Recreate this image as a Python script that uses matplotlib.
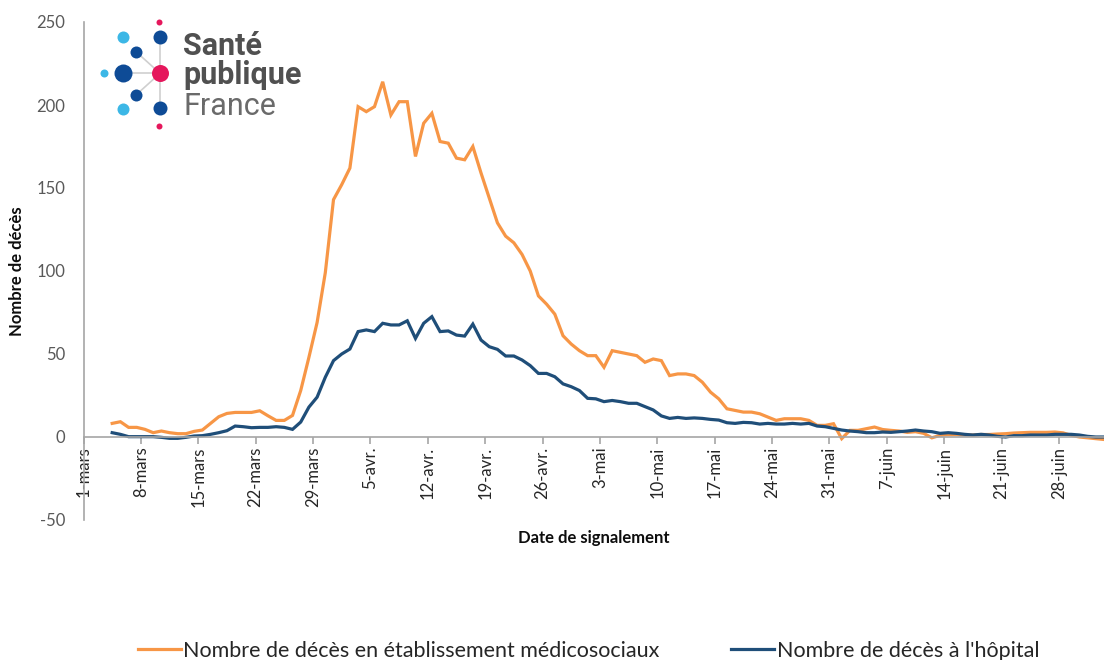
import numpy as np
import matplotlib
matplotlib.use('Agg')
import matplotlib.pyplot as plt
from matplotlib import font_manager

# ===========================
# DONNEES
# ===========================
PREMIER_JOUR = 3  # 4-mars (jour 0 = 1-mars)

deces_ems = [
    8.2, 9.2, 5.8, 5.8, 4.6, 2.6, 3.6, 2.6, 2.0, 2.0,
    3.4, 4.2, 8.2, 12.2, 14.2, 14.8, 14.8, 14.8, 15.8, 12.8,
    10, 10, 13, 28, 48, 69, 99, 143, 152, 162,
    199, 196, 199, 214, 194, 202, 202, 169, 189, 195,
    178, 177, 168, 167, 175, 159, 144, 129, 121, 117,
    110, 100, 85, 80, 74, 61, 56, 52, 49, 49,
    42, 52, 51, 50, 49, 45, 47, 46, 37, 38,
    38, 37, 33, 27, 23, 17, 16, 15, 15, 14,
    12, 10, 11, 11, 11, 10, 7, 7, 8, -1,
    4, 4, 5, 6, 4.5, 4, 3.6, 2.8, 3.2, 2.2,
    -0.5, 1, 1.5, 1.5, 1.2, 1.2, 1.5, 1.5, 1.8, 2,
    2.4, 2.6, 2.8, 2.8, 2.8, 3, 2.5, 1, 0, -0.5,
    -1, -1.5,
]

deces_hopital = [
    2.6, 1.6, 0.2, 0.2, 0.2, 0.2, -0.2, -0.8, -0.8, -0.2,
    0.6, 0.8, 1.6, 2.6, 3.8, 6.6, 6.2, 5.6, 5.8, 5.8,
    6.2, 5.8, 4.6, 9, 18, 24, 36, 46, 50, 53,
    63.5, 64.5, 63.5, 68.5, 67.5, 67.5, 70, 59.4, 68.5, 72.5,
    63.5, 63.9, 61.4, 60.8, 68, 58.4, 54.4, 52.8, 48.8, 48.8,
    46.4, 43, 38.3, 38.3, 36.3, 32, 30.3, 28, 23.3, 23,
    21.3, 22, 21.3, 20.3, 20.3, 18.3, 16.3, 12.7, 11.2, 11.8,
    11.2, 11.5, 11.2, 10.6, 10.2, 8.6, 8.2, 8.8, 8.6, 7.8,
    8.2, 7.8, 7.8, 8.2, 7.8, 8.2, 6.6, 6.2, 5.2, 4.2,
    3.6, 3.2, 2.6, 2.6, 3, 2.8, 3.2, 3.6, 4.2, 3.6,
    3.2, 2.2, 2.6, 2.2, 1.6, 1.2, 1.6, 1.2, 0.4, 0,
    0.8, 0.8, 1.2, 1.2, 1.2, 1.6, 1.6, 1.6, 1.2, 0.4,
    0, 0,
]

jours_ticks = [0, 7, 14, 21, 28, 35, 42, 49, 56, 63, 70, 77, 84, 91, 98, 105, 112, 119]
labels_ticks = ['1-mars', '8-mars', '15-mars', '22-mars', '29-mars', '5-avr.', '12-avr.',
                '19-avr.', '26-avr.', '3-mai', '10-mai', '17-mai', '24-mai', '31-mai',
                '7-juin', '14-juin', '21-juin', '28-juin']

# ===========================
# STYLE
# ===========================
COR_EMS = '#F79646'
COR_HOP = '#1F4E79'
COR_EIXO = '#A6A6A6'

try:
    font_manager.findfont('Liberation Sans Narrow', fallback_to_default=False)
    FONTE_LEG = 'Liberation Sans Narrow'
except Exception:
    FONTE_LEG = 'Lato'

plt.rcParams['font.family'] = ['Lato', 'DejaVu Sans']
plt.rcParams['axes.unicode_minus'] = False

fig = plt.figure(figsize=(11.04, 6.6), dpi=100)
ax = fig.add_axes([83.5 / 1104, 1 - 520 / 660, 1 - 83.5 / 1104, 498 / 660])

# axe X posé sur le zéro (avant de fixer les ticks, set_position les réinitialise)
ax.spines['top'].set_visible(False)
ax.spines['right'].set_visible(False)
ax.spines['bottom'].set_position(('data', 0))
for s in ('left', 'bottom'):
    ax.spines[s].set_color(COR_EIXO)
    ax.spines[s].set_linewidth(1.2)

x = np.arange(PREMIER_JOUR, PREMIER_JOUR + len(deces_ems)) + 0.5
ax.plot(x, deces_ems, color=COR_EMS, lw=2.3, solid_joinstyle='miter',
        label='Nombre de décès en établissement médicosociaux')
ax.plot(x, deces_hopital, color=COR_HOP, lw=2.3, solid_joinstyle='miter',
        label="Nombre de décès à l'hôpital")

ax.set_xlim(0, 124.5)
ax.set_ylim(-50, 250)
ax.set_yticks([-50, 0, 50, 100, 150, 200, 250])
ax.set_xticks(jours_ticks)
ax.set_xticklabels(labels_ticks)

ax.tick_params(axis='x', direction='out', length=5, width=1.2, color=COR_EIXO,
               labelsize=12, labelcolor='#262626', pad=2, labelrotation=90)
ax.tick_params(axis='y', length=0, labelsize=12, labelcolor='#595959', pad=13)

ax.set_xlabel('Date de signalement', fontsize=12, fontweight='bold', color='#0D0D0D')
ax.xaxis.set_label_coords(0.5, -0.02)
ax.set_ylabel('Nombre de décès', fontsize=12, fontweight='bold', color='#0D0D0D')
ax.yaxis.set_label_coords(-0.057, 0.5)

fig.legend(loc='center', bbox_to_anchor=(0.533, 1 - 651 / 660), ncol=2, frameon=False,
           prop={'family': FONTE_LEG, 'size': 15.5}, handlelength=2.0, handletextpad=0.12,
           columnspacing=3.3, labelcolor='#262626')

# ===========================
# LOGO
# ===========================
logo = fig.add_axes([0, 0, 1, 1], zorder=5)
logo.set_xlim(0, 1104)
logo.set_ylim(660, 0)
logo.axis('off')
logo.patch.set_alpha(0)

for (x0, y0) in [(122.7, 73.3), (136, 51.7), (136, 95)]:
    logo.plot([x0, 160], [y0, 73.3], color='#CFCFCF', lw=1.2, zorder=1)
logo.plot([160, 160], [37.3, 108.3], color='#CFCFCF', lw=1.2, zorder=1)

pontos = [
    (159.3, 21.7, 3, '#E5175C'), (160, 37.3, 7, '#0E4B96'), (122.7, 36.7, 6, '#3CB7E6'),
    (136, 51.7, 6, '#0E4B96'), (104, 73.3, 4, '#3CB7E6'), (123.3, 73.3, 9, '#0E4B96'),
    (160, 73.3, 8.5, '#E5175C'), (136, 95, 6, '#0E4B96'), (122.7, 109.3, 6, '#3CB7E6'),
    (160, 108.3, 7, '#0E4B96'), (159.3, 126, 3, '#E5175C'),
]
for (px, py, r, c) in pontos:
    logo.scatter([px], [py], s=(1.44 * r) ** 2, color=c, zorder=2, linewidths=0)

logo.text(183, 55, 'Santé', fontsize=22, fontweight='bold', color='#505050',
          family='Roboto', va='baseline')
logo.text(183, 84, 'publique', fontsize=22, fontweight='bold', color='#505050',
          family='Roboto', va='baseline')
logo.text(183, 115, 'France', fontsize=22, color='#6A6A6A', family='Roboto', va='baseline')

fig.savefig('out.png', dpi=100)
